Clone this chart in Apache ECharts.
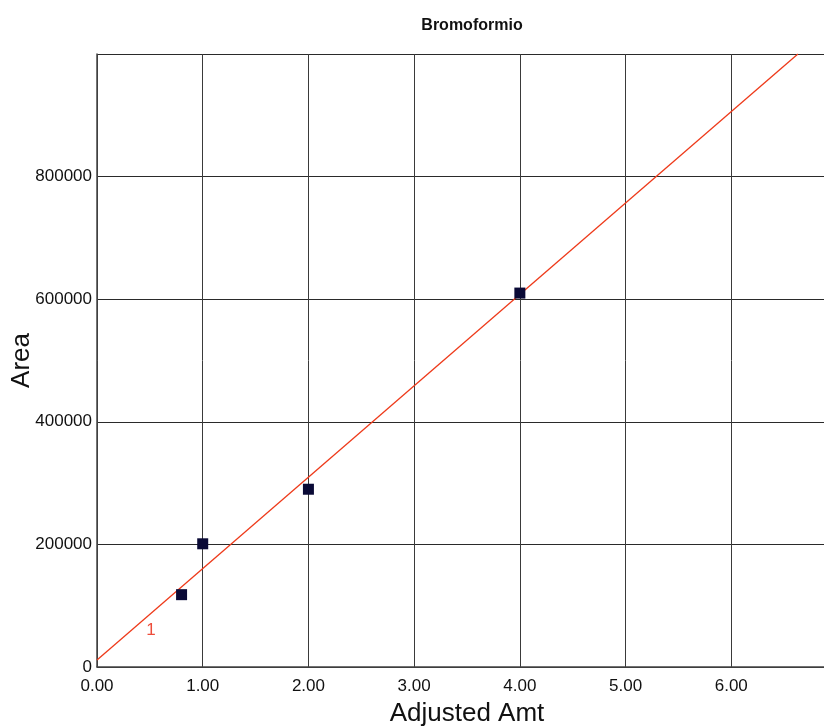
<!DOCTYPE html>
<html>
<head>
<meta charset="utf-8">
<script src="https://cdn.jsdelivr.net/npm/echarts@6/dist/echarts.min.js"></script>
<style>
  html, body { margin: 0; padding: 0; background: #ffffff; }
  #chart { width: 824px; height: 728px; }
</style>
</head>
<body>
<div id="chart"></div>
<script>
// Calibration standards: adjusted amount vs. peak area
const amounts = [0.8, 1.0, 2.0, 4.0];
const areas = [118000, 201000, 290000, 610000];

// Fitted calibration line, drawn between its two end points
const fitAmt = [0.0, 6.63];
const fitArea = [11400, 1000000];

// Curve label "1" placed along the fit
const curveLabelAt = [0.51, 60000];

const xTicks = ['0.00', '1.00', '2.00', '3.00', '4.00', '5.00', '6.00', ''];

const chart = echarts.init(document.getElementById('chart'));
const font = 'Liberation Sans, Arial, Helvetica, sans-serif';

chart.setOption({
  animation: false,
  backgroundColor: '#ffffff',
  title: {
    text: 'Bromoformio',
    left: 467,
    top: 13,
    textAlign: 'center',
    textStyle: { fontFamily: font, fontSize: 16, fontWeight: 'bold', color: '#111' }
  },
  // the plot runs on past the right edge of the page
  grid: { left: 97, top: 54, width: 740, height: 613, outerBoundsMode: 'none' },
  xAxis: {
    type: 'value',
    min: 0,
    max: 7,
    interval: 1,
    name: 'Adjusted Amt',
    nameLocation: 'middle',
    nameGap: 34,
    nameMoveOverlap: false,
    nameTextStyle: { fontFamily: font, fontSize: 26, color: '#111', verticalAlign: 'top' },
    axisLine: { show: true, lineStyle: { color: '#444', width: 1.5 } },
    axisTick: { show: false },
    axisLabel: {
      fontFamily: font, fontSize: 17, color: '#111', margin: 11,
      formatter: v => xTicks[Math.round(v)]
    },
    splitLine: { show: true, lineStyle: { color: '#3a3a3a', width: 1 } }
  },
  yAxis: {
    type: 'value',
    min: 0,
    max: 1000000,
    interval: 200000,
    name: 'Area',
    nameLocation: 'middle',
    nameRotate: 90,
    nameGap: 62,
    nameMoveOverlap: false,
    nameTextStyle: { fontFamily: font, fontSize: 26, color: '#111' },
    axisLine: { show: true, lineStyle: { color: '#444', width: 1.5 } },
    axisTick: { show: false },
    axisLabel: {
      fontFamily: font, fontSize: 17, color: '#111', margin: 5,
      formatter: v => (v >= 1000000 ? '' : String(v))
    },
    splitLine: { show: true, lineStyle: { color: '#2a2a2a', width: 1 } }
  },
  series: [
    {
      type: 'line',
      data: fitAmt.map((x, i) => [x, fitArea[i]]),
      symbol: 'none',
      lineStyle: { color: '#ee3a1a', width: 1.3 },
      z: 3
    },
    {
      type: 'scatter',
      data: amounts.map((x, i) => [x, areas[i]]),
      symbol: 'rect',
      symbolSize: 11,
      itemStyle: { color: '#0a0a36', opacity: 1 },
      z: 4
    },
    {
      type: 'scatter',
      data: [curveLabelAt],
      symbolSize: 0,
      label: {
        show: true,
        position: 'inside',
        formatter: '1',
        fontFamily: font,
        fontSize: 17,
        color: '#e8200a'
      },
      z: 5
    }
  ]
});
</script>
</body>
</html>
